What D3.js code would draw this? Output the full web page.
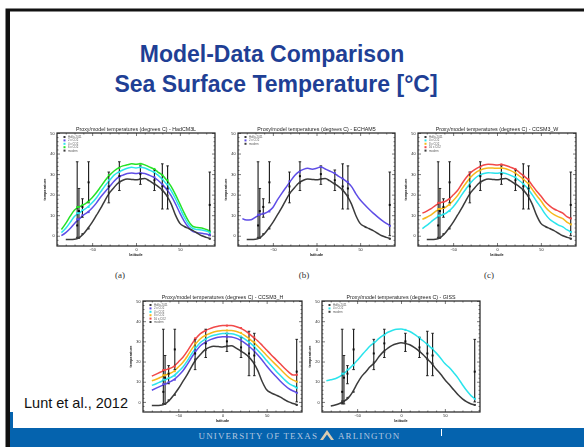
<!DOCTYPE html>
<html>
<head>
<meta charset="utf-8">
<script src="https://cdn.jsdelivr.net/npm/d3@7"></script>
<style>
  body { margin: 0; background: #fff; }
  svg { display: block; }
</style>
</head>
<body>
<script>
// Lunt et al. 2012 - proxy/model SST vs latitude, five models

const W = 584, H = 447;

// latitude grid of the zonal means (deg)
const lats = [-85,-80,-75,-70,-65,-60,-55,-50,-45,-40,-35,-30,-25,-20,-15,-10,-5,0,5,10,15,20,25,30,35,40,45,50,55,60,65,70,75,80,85];

// black curve (modern) used in panels a-d
const modernSST = [null,-1.8,-1.8,-1.7,-1,0.8,3.5,6.5,10,13.5,17.5,21,23.5,25.8,27,27.6,27.4,27.2,27.6,27.8,26.8,25.4,24,22.2,19.5,15.5,10,6,4.5,3.5,2.5,1.2,0,-0.8,-1.5];

// HadCM3L
const hadGreen = [3,6,9.5,12.5,14,15,16.5,18.5,21,24,27,29.5,31.5,33,34,34.5,35,34.8,35,34.5,33.5,32.5,31,29.5,27,24,20,15.5,11,7,4.5,4,3.8,3,2];
const hadCyan  = [1.5,3.6,6.5,9.5,11,12.5,14,16,18.5,21.5,24.5,27,29.5,31,32,32.8,33.3,33,33.3,33,32,31,29.5,27.5,25,22,18,13.5,9,5.5,3.5,3,2.8,2.3,1.5];
const hadBlue  = [0,1.5,3.5,6,8,10,11.5,13.5,16,19,21.5,24,26.5,28.5,29.5,30.3,30.5,30.3,30.5,30.3,29.5,28.5,27,25,22.5,19.5,15.5,11,7,4,2,1.5,1.2,0.8,0.3];

// ECHAM5
const echBlue = [8.3,7.6,7.8,9,10.2,10.8,11.8,13.7,17.3,20.5,23.5,26.5,29.3,31.2,32.3,32.8,32.4,32.8,33.5,32.5,31.5,30.5,29,27.8,26.2,24,20.5,17.5,15.2,13,11,9.2,7.5,6,4.8];

// CCSM3_W
const cwRed    = [11,12,13.2,14.8,16,16.5,17.8,19.8,22,25.3,28.3,30.7,32.3,33.5,34.4,34.8,34.7,34.4,34.7,34.2,33.4,32.5,31,29.3,27.5,24.6,21.8,19.3,16.5,14.5,13,12,11,9.2,8.4];
const cwOrange = [8,9,10.2,11.8,13,13.5,15,17,19.5,22.8,25.8,28.5,30.5,31.8,32.6,33,33,32.8,33,32.6,31.8,30.7,29.2,27.5,25.5,22.7,19.7,17,14,11.8,10.3,9.2,8.3,6.5,5.5];
const cwCyan   = [3.5,5,6.8,8.5,9.8,10.5,12,14,16.8,20,23,25.8,28,29.5,30.3,30.7,30.5,30.4,30.7,30.3,29.5,28.5,27,25.2,23,20,16.8,13.8,10.5,8,6.5,5.2,4.3,2.8,1.8];

// CCSM3_H
const chRed    = [null,12.8,13.8,14.8,15.8,16.5,17.6,19.8,22,25,28.5,31.5,33.8,35.2,36.2,37,37.5,37.8,37.8,37.8,37.4,36.6,35.4,33.8,32,30.2,28,25.7,23.4,21.2,19,16.8,14.8,13.3,13.5];
const chOrange = [null,10.5,11.2,12.2,13.2,14,15.2,17.3,19.5,22.5,26,29,31.3,32.8,33.8,34.6,35.1,35.4,35.4,35.4,35,34.2,33,31.4,29.6,27.6,25.4,23,20.8,18.6,16.4,14.2,12.2,10.8,10];
const chCyan   = [null,8.2,9,10,11,11.8,13,15,17.2,20.2,23.8,26.9,29.4,31,32.2,33,33.5,33.9,33.9,33.8,33.3,32.4,31.2,29.6,27.7,25.5,23.1,20.5,18,15.6,13.3,11.1,9.2,8,7];
const chBlue   = [null,5.8,6.8,7.8,8.8,9.8,11,13,15.3,18.5,22,25.2,27.8,29.4,30.6,31.4,32,32.3,32.3,32.2,31.6,30.6,29.3,27.6,25.6,23.2,20.6,17.8,15.2,12.8,10.5,8.4,6.6,5.4,4.5];

// GISS
const gissCyan  = [10.5,11,11.5,12.5,14,16,18.2,20.5,23,25.5,27.8,29.5,31.5,33.1,34.5,35.4,36,36.1,35.7,34.9,33.6,32,30.3,28.5,26.5,24.3,21.8,19,17,14.5,11.8,8.5,5.5,3,1.5];
const gissBlack = [null,-2,-1.5,-0.8,0.3,2,5,9,12.5,15,17.5,19.5,22.5,24.9,26.6,28,28.8,29.3,29,28.3,27,25.4,23.5,21.2,19,16.3,13.8,11,8.6,6,3.5,1.5,0,-1,-1.5];

// proxy SST estimates (deg C): latitude, central value, range
const proxyLat = [-67,-65,-61,-54,-31,-19,5,21,30,36,84];
const proxyMid = [5,12,14,26,24,29,30,27,24,23,15];
const proxyLo  = [-1,-1,9,16,16,22,25,22,13,13,0];
const proxyHi  = [36,23,18,36,31,36,34,32,35,34,31];

const yTicks = [0,10,20,30,40,50];
const xTicks = [-50,0,50];

const GREEN = '#26e326', CYAN = '#2ae4ec', BLUE = '#5e4de6',
      ORANGE = '#f6b81c', RED = '#f14848', DARK = '#3b3b3b';

const panels = [
  { title: 'Proxy/model temperatures (degrees C) - HadCM3L', tag: '(a)',
    left: 57, right: 215, top: 133, bottom: 246, tagX: 120,
    curves: [[hadGreen, GREEN], [hadCyan, CYAN], [hadBlue, BLUE], [modernSST, DARK]],
    legend: [['Hollis 2011', DARK], ['2 x CO2', BLUE], ['4 x CO2', CYAN], ['6 x CO2', GREEN], ['modern', DARK]] },
  { title: 'Proxy/model temperatures (degrees C) - ECHAM5', tag: '(b)',
    left: 238, right: 395, top: 133, bottom: 246, tagX: 304,
    curves: [[echBlue, BLUE], [modernSST, DARK]],
    legend: [['Hollis 2011', DARK], ['2 x CO2', BLUE], ['modern', DARK]] },
  { title: 'Proxy/model temperatures (degrees C) - CCSM3_W', tag: '(c)',
    left: 418, right: 576, top: 133, bottom: 246, tagX: 489,
    curves: [[cwRed, RED], [cwOrange, ORANGE], [cwCyan, CYAN], [modernSST, DARK]],
    legend: [['Hollis 2011', DARK], ['4 x CO2', CYAN], ['8 x CO2', ORANGE], ['16 x CO2', RED], ['modern', DARK]] },
  { title: 'Proxy/model temperatures (degrees C) - CCSM3_H', tag: null,
    left: 143, right: 302, top: 301, bottom: 412,
    curves: [[chRed, RED], [chOrange, ORANGE], [chCyan, CYAN], [chBlue, BLUE], [modernSST, DARK]],
    legend: [['Hollis 2011', DARK], ['2 x CO2', BLUE], ['4 x CO2', CYAN], ['8 x CO2', ORANGE], ['16 x CO2', RED], ['modern', DARK]] },
  { title: 'Proxy/model temperatures (degrees C) - GISS', tag: null,
    left: 322, right: 480, top: 301, bottom: 412,
    curves: [[gissCyan, CYAN], [gissBlack, DARK]],
    legend: [['Hollis 2011', DARK], ['4 x CO2', CYAN], ['modern', DARK]] }
];

const svg = d3.select('body').append('svg')
  .attr('width', W).attr('height', H);

const defs = svg.append('defs');
defs.append('filter').attr('id', 'soft')
  .append('feGaussianBlur').attr('stdDeviation', 0.4);

svg.append('rect').attr('width', W).attr('height', H).attr('fill', '#fff');

// slide frame
svg.append('rect').attr('x', 7).attr('y', 10).attr('width', W).attr('height', H)
  .attr('fill', 'none').attr('stroke', '#111').attr('stroke-width', 3);

// slide title
const title = svg.append('g')
  .attr('font-family', 'Liberation Sans, Arial, sans-serif')
  .attr('font-weight', 'bold').attr('font-size', 23)
  .attr('fill', '#1f3f95').attr('text-anchor', 'middle');
title.append('text').attr('x', 272).attr('y', 62).text('Model-Data Comparison');
title.append('text').attr('x', 276).attr('y', 92).text('Sea Surface Temperature [°C]');

panels.forEach((p, pi) => {
  const x = d3.scaleLinear().domain([-90, 90]).range([p.left, p.right]);
  const y = d3.scaleLinear().domain([-5, 50]).range([p.bottom, p.top]);

  const g = svg.append('g').attr('filter', 'url(#soft)')
    .attr('font-family', 'Liberation Sans, Arial, sans-serif');

  const clipId = 'clip' + pi;
  defs.append('clipPath').attr('id', clipId)
    .append('rect').attr('x', p.left).attr('y', p.top)
    .attr('width', p.right - p.left).attr('height', p.bottom - p.top);

  const plot = g.append('g').attr('clip-path', `url(#${clipId})`);

  // model curves
  const line = d3.line()
    .defined(d => d[1] != null)
    .x(d => x(d[0])).y(d => y(d[1]))
    .curve(d3.curveMonotoneX);

  p.curves.forEach(([vals, col]) => {
    plot.append('path')
      .datum(lats.map((la, i) => [la, vals[i]]))
      .attr('d', line)
      .attr('fill', 'none').attr('stroke', col).attr('stroke-width', 1.5);
  });

  // proxy error bars
  proxyLat.forEach((la, i) => {
    const bx = x(la);
    plot.append('line')
      .attr('x1', bx).attr('x2', bx).attr('y1', y(proxyLo[i])).attr('y2', y(proxyHi[i]))
      .attr('stroke', '#1a1a1a').attr('stroke-width', 1.1);
    [proxyLo[i], proxyHi[i]].forEach(v => {
      plot.append('line')
        .attr('x1', bx - 1.3).attr('x2', bx + 1.3).attr('y1', y(v)).attr('y2', y(v))
        .attr('stroke', '#1a1a1a').attr('stroke-width', 0.9);
    });
  });

  // model values at proxy sites (nearest grid latitude)
  p.curves.forEach(([vals, col]) => {
    proxyLat.forEach(la => {
      const k = d3.minIndex(lats, l => Math.abs(l - la));
      if (vals[k] == null) return;
      plot.append('rect')
        .attr('x', x(la) - 1).attr('y', y(vals[k]) - 1)
        .attr('width', 2).attr('height', 2).attr('fill', col);
    });
  });

  // proxy central values
  proxyLat.forEach((la, i) => {
    plot.append('rect')
      .attr('x', x(la) - 1).attr('y', y(proxyMid[i]) - 1)
      .attr('width', 2).attr('height', 2).attr('fill', '#111');
  });

  // axes: ticks inward on all four sides
  const styleAxis = sel => {
    sel.select('.domain').remove();
    sel.selectAll('line').attr('stroke', '#222').attr('stroke-width', 0.6);
    sel.selectAll('text').attr('font-size', 3.8).attr('fill', '#222');
  };
  const minorY = d3.range(-4, 50, 2).filter(v => v % 10 !== 0);
  const minorX = d3.range(-80, 90, 10).filter(v => v % 50 !== 0);

  g.append('g').attr('transform', `translate(${p.left},0)`)
    .call(d3.axisLeft(y).tickValues(yTicks).tickSize(-3).tickPadding(2.5)).call(styleAxis);
  g.append('g').attr('transform', `translate(${p.left},0)`)
    .call(d3.axisLeft(y).tickValues(minorY).tickSize(-1.5).tickFormat('')).call(styleAxis);
  g.append('g').attr('transform', `translate(${p.right},0)`)
    .call(d3.axisRight(y).tickValues(yTicks).tickSize(-3).tickFormat('')).call(styleAxis);
  g.append('g').attr('transform', `translate(${p.right},0)`)
    .call(d3.axisRight(y).tickValues(minorY).tickSize(-1.5).tickFormat('')).call(styleAxis);
  g.append('g').attr('transform', `translate(0,${p.bottom})`)
    .call(d3.axisBottom(x).tickValues(xTicks).tickSize(-3).tickPadding(2.5)).call(styleAxis);
  g.append('g').attr('transform', `translate(0,${p.bottom})`)
    .call(d3.axisBottom(x).tickValues(minorX).tickSize(-1.5).tickFormat('')).call(styleAxis);
  g.append('g').attr('transform', `translate(0,${p.top})`)
    .call(d3.axisTop(x).tickValues(xTicks).tickSize(-3).tickFormat('')).call(styleAxis);
  g.append('g').attr('transform', `translate(0,${p.top})`)
    .call(d3.axisTop(x).tickValues(minorX).tickSize(-1.5).tickFormat('')).call(styleAxis);

  // frame
  g.append('rect')
    .attr('x', p.left).attr('y', p.top)
    .attr('width', p.right - p.left).attr('height', p.bottom - p.top)
    .attr('fill', 'none').attr('stroke', '#222').attr('stroke-width', 1.2);

  // axis titles
  const cx = (p.left + p.right) / 2, cy = (p.top + p.bottom) / 2;
  g.append('text').attr('x', cx).attr('y', p.bottom + 10)
    .attr('text-anchor', 'middle').attr('font-size', 3.8).attr('font-weight', 'bold')
    .attr('fill', '#222').text('latitude');
  g.append('text')
    .attr('transform', `translate(${p.left - 11},${cy}) rotate(-90)`)
    .attr('text-anchor', 'middle').attr('font-size', 3.8).attr('font-weight', 'bold')
    .attr('fill', '#222').text('temperature');

  // panel title
  g.append('text').attr('x', cx).attr('y', p.top - 2.5)
    .attr('text-anchor', 'middle').attr('font-size', 5.3)
    .attr('fill', '#222').text(p.title);

  // legend
  p.legend.forEach(([lab, col], i) => {
    const ly = p.top + 4 + i * 3.4;
    g.append('rect').attr('x', p.left + 6.5).attr('y', ly - 1)
      .attr('width', 2).attr('height', 2).attr('fill', col);
    g.append('text').attr('x', p.left + 11).attr('y', ly + 1)
      .attr('font-size', 2.8).attr('fill', '#555').text(lab);
  });

  // sub-figure tag
  if (p.tag) {
    svg.append('text').attr('x', p.tagX).attr('y', 278)
      .attr('text-anchor', 'middle').attr('font-family', 'Liberation Serif, Times New Roman, serif')
      .attr('font-size', 9).attr('fill', '#333').text(p.tag);
  }
});

// citation
svg.append('text').attr('x', 24).attr('y', 408)
  .attr('font-family', 'Liberation Sans, Arial, sans-serif')
  .attr('font-size', 14.5).attr('fill', '#111').text('Lunt et al., 2012');

// footer band
const BAND = '#0563ae';
svg.append('rect').attr('x', 10).attr('y', 412).attr('width', 3).attr('height', H - 412).attr('fill', BAND);
svg.append('rect').attr('x', 10).attr('y', 428).attr('width', W).attr('height', H - 428).attr('fill', BAND);
svg.append('rect').attr('x', 7).attr('y', 10).attr('width', 3).attr('height', H).attr('fill', '#111');

const foot = svg.append('g')
  .attr('font-family', 'Liberation Serif, Times New Roman, serif')
  .attr('font-size', 9).attr('fill', '#b3c7e0').attr('letter-spacing', 1.1);
foot.append('text').attr('x', 318).attr('y', 439).attr('text-anchor', 'end').text('UNIVERSITY OF TEXAS');
foot.append('text').attr('x', 338).attr('y', 439).attr('text-anchor', 'start').text('ARLINGTON');
svg.append('path')
  .attr('d', 'M320,440 L327,430 L334,440 L331,440 L327,434.5 L323,440 Z')
  .attr('fill', '#d9cbb0');
svg.append('line').attr('x1', 441.5).attr('x2', 441.5).attr('y1', 429).attr('y2', 436)
  .attr('stroke', '#fff').attr('stroke-width', 1);
</script>
</body>
</html>
